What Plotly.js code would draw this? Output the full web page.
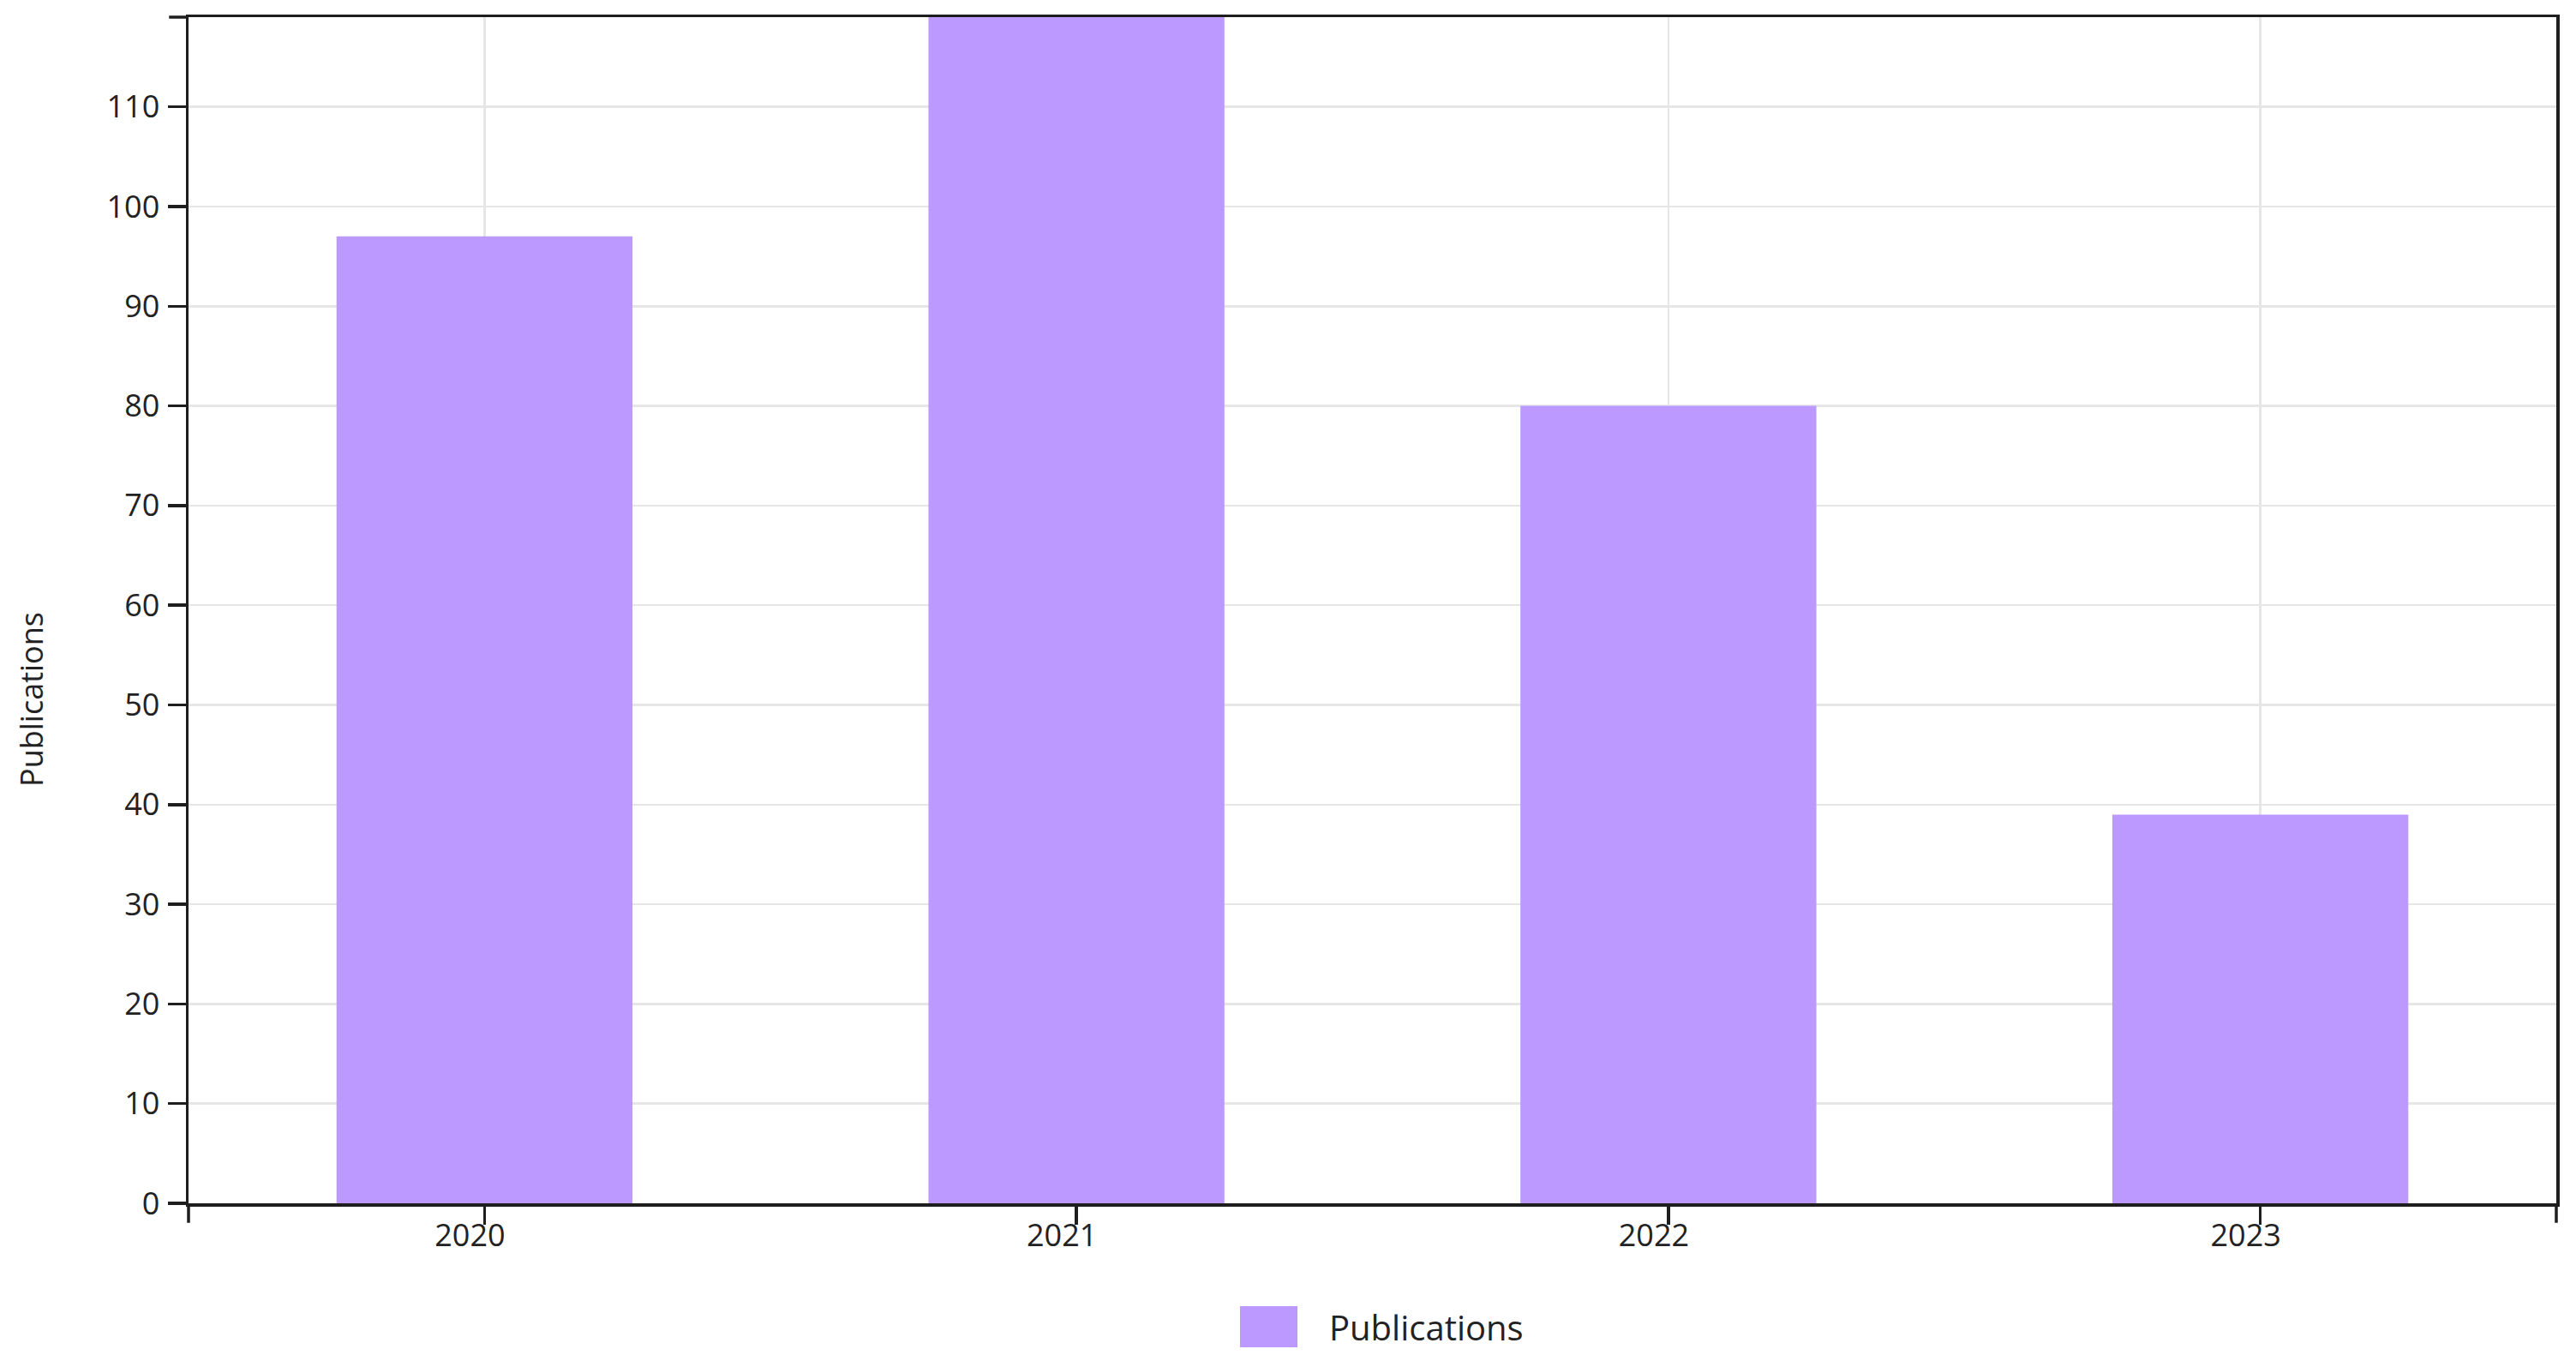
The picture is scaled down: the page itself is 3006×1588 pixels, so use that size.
<!DOCTYPE html>
<html>
<head>
<meta charset="utf-8">
<script src="https://cdn.plot.ly/plotly-3.0.1.min.js"></script>
<style>
html, body { margin: 0; padding: 0; background: #ffffff; }
#chart { width: 3006px; height: 1588px; }
</style>
</head>
<body>
<div id="chart"></div>
<script>
// ---- data ----
const years = ['2020', '2021', '2022', '2023'];
const publications = [97, 119, 80, 39];
const seriesName = 'Publications';
const yTickValues = [0, 10, 20, 30, 40, 50, 60, 70, 80, 90, 100, 110];
const yAxisTitle = 'Publications';
const yMax = 119;

// ---- style ----
const FONT = 'Open Sans, Noto Sans, sans-serif';
const AXIS_COLOR = '#1e1e1e';
const GRID_COLOR = '#e6e6e6';
const BAR_COLOR = '#bb99ff';
const W = 3006, H = 1588;
const M = { l: 220, r: 23, t: 20, b: 184, autoexpand: false };
const plotW = W - M.l - M.r, plotH = H - M.t - M.b;
const TICKLEN = 21, LW = 3.5;

const data = [{
  type: 'bar',
  x: years,
  y: publications,
  name: seriesName,
  width: 0.5,
  marker: { color: BAR_COLOR, line: { width: 0 } },
  showlegend: true,
  hoverinfo: 'skip'
}];

// outer (domain-end) tick marks, d3-axis style
function outerTick(opts) {
  return Object.assign({
    type: 'line', xref: 'paper', yref: 'paper', layer: 'above',
    line: { color: AXIS_COLOR, width: LW }
  }, opts);
}

const layout = {
  width: W,
  height: H,
  margin: M,
  paper_bgcolor: '#ffffff',
  plot_bgcolor: '#ffffff',
  font: { family: FONT, color: '#222222' },
  showlegend: true,
  xaxis: {
    type: 'category',
    range: [-0.5, years.length - 0.5],
    showline: true, mirror: true,
    linecolor: AXIS_COLOR, linewidth: LW,
    ticks: 'outside', ticklen: TICKLEN, tickwidth: LW, tickcolor: AXIS_COLOR,
    showgrid: true, gridcolor: GRID_COLOR, gridwidth: 2.5,
    zeroline: false,
    tickfont: { family: FONT, size: 36, color: '#222222' },
    ticklabelshift: -17,
    ticklabelstandoff: -18,
    fixedrange: true
  },
  yaxis: {
    range: [0, yMax],
    tickmode: 'array', tickvals: yTickValues,
    showline: true, mirror: true,
    linecolor: AXIS_COLOR, linewidth: LW,
    ticks: 'outside', ticklen: TICKLEN, tickwidth: LW, tickcolor: AXIS_COLOR,
    showgrid: true, gridcolor: GRID_COLOR, gridwidth: 2.5,
    zeroline: false,
    tickfont: { family: FONT, size: 36, color: '#222222' },
    ticklabelstandoff: 2,
    fixedrange: true
  },
  shapes: [
    // bottom-left and bottom-right end ticks of the x axis
    outerTick({ x0: 0, x1: 0, ysizemode: 'pixel', yanchor: 0, y0: 0, y1: -(TICKLEN + LW / 2) }),
    outerTick({ x0: 1, x1: 1, ysizemode: 'pixel', yanchor: 0, y0: 0, y1: -(TICKLEN + LW / 2) }),
    // top end tick of the y axis
    outerTick({ y0: 1, y1: 1, xsizemode: 'pixel', xanchor: 0, x0: 0, x1: -(TICKLEN + LW / 2) })
  ],
  annotations: [{
    text: yAxisTitle,
    xref: 'paper', yref: 'paper',
    x: (36 - M.l) / plotW, y: (H - M.b - 816) / plotH,
    xanchor: 'center', yanchor: 'middle',
    textangle: -90, showarrow: false,
    font: { family: FONT, size: 36, color: '#222222' }
  }],
  legend: {
    orientation: 'h',
    xref: 'paper', yref: 'paper',
    x: (1440 - M.l) / plotW, xanchor: 'left',
    y: (H - M.b - 1548) / plotH, yanchor: 'middle',
    itemwidth: 94,
    font: { family: FONT, size: 40, color: '#222222' },
    bgcolor: 'rgba(0,0,0,0)',
    borderwidth: 0
  }
};

function fixSwatch(gd) {
  const path = gd.querySelector('.legend .legendpoints path');
  if (!path) return;
  const bb = path.getBBox();
  const r = path.getBoundingClientRect();
  const offX = r.left - bb.x, offY = r.top - bb.y;
  const x0 = 1445 - offX, x1 = 1514 - offX;
  const y0 = 1524 - offY, y1 = 1572 - offY;
  path.setAttribute('d', 'M' + x0 + ',' + y0 + 'H' + x1 + 'V' + y1 + 'H' + x0 + 'Z');
}

Plotly.newPlot('chart', data, layout, { staticPlot: true, displayModeBar: false }).then(function (gd) {
  const t = gd.querySelector('.legend .legendtext');
  if (!t) return;
  const tb = t.getBoundingClientRect();
  const dx = 1551 - tb.left;
  const dy = 1548 - (tb.top + tb.bottom) / 2;
  return Plotly.relayout(gd, {
    'legend.x': layout.legend.x + dx / plotW,
    'legend.y': layout.legend.y - dy / plotH
  }).then(function () { fixSwatch(gd); });
});
</script>
</body>
</html>
